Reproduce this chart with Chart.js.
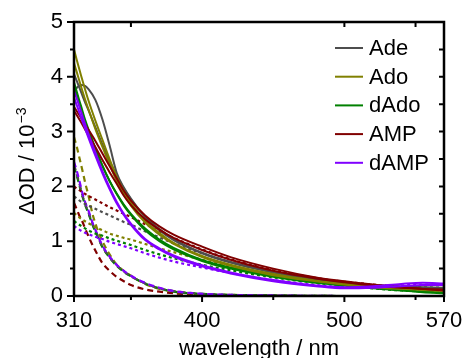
<!DOCTYPE html>
<html><head><meta charset="utf-8">
<script src="https://cdn.jsdelivr.net/npm/chart.js@4.4.0/dist/chart.umd.min.js"></script>
<style>html,body{margin:0;padding:0;background:#fff;overflow:hidden}#wrap{width:463px;height:358px}</style>
</head><body><div id="wrap"><canvas id="c" width="463" height="358"></canvas></div>
<script>
// ---- data ----
const seriesNames = ['Ade', 'Ado', 'dAdo', 'AMP', 'dAMP'];
const seriesColors = ['#4d4d4d', '#808000', '#008000', '#800000', '#8000ff'];
const xTickValues = [310, 400, 500, 570];
const yTickValues = [0, 1, 2, 3, 4, 5];
const wlSolid = [310, 312, 315, 318, 320, 325, 330, 335, 340, 345, 350, 360, 370, 380, 400, 420, 450, 480, 500, 520, 540, 555, 570];
const wlFast  = [310, 312, 314, 316, 318, 320, 323, 326, 330, 335, 340, 345, 350, 360, 370, 380, 400, 420, 450, 500, 570];

const adeSolidA  = [3.72,3.80,3.85,3.83,3.78,3.58,3.22,2.75,2.25,1.98,1.78,1.45,1.22,1.04,0.79,0.62,0.44,0.31,0.25,0.20,0.17,0.16,0.15];
const adeSolidB  = [4.05,3.92,3.72,3.52,3.40,3.08,2.76,2.46,2.20,1.96,1.76,1.44,1.20,1.02,0.78,0.61,0.43,0.30,0.24,0.19,0.16,0.15,0.14];
const adoSolidA  = [4.50,4.30,4.02,3.75,3.58,3.20,2.85,2.50,2.18,1.92,1.70,1.38,1.15,0.97,0.73,0.57,0.40,0.28,0.22,0.17,0.14,0.12,0.10];
const adoSolidB  = [4.25,4.08,3.82,3.57,3.42,3.05,2.72,2.40,2.10,1.86,1.65,1.34,1.12,0.95,0.71,0.55,0.38,0.27,0.21,0.16,0.13,0.11,0.09];
const dadoSolidA = [3.90,3.72,3.46,3.20,3.05,2.70,2.38,2.10,1.86,1.65,1.48,1.20,1.00,0.85,0.64,0.50,0.35,0.24,0.19,0.14,0.10,0.07,0.05];
const dadoSolidB = [3.80,3.64,3.40,3.16,3.02,2.68,2.37,2.10,1.87,1.67,1.50,1.23,1.03,0.88,0.66,0.52,0.36,0.25,0.20,0.15,0.11,0.08,0.06];
const ampSolidA  = [3.45,3.37,3.25,3.12,3.04,2.83,2.60,2.37,2.15,1.92,1.74,1.47,1.27,1.12,0.90,0.71,0.50,0.34,0.27,0.21,0.16,0.13,0.10];
const ampSolidB  = [3.38,3.30,3.17,3.03,2.94,2.72,2.48,2.26,2.05,1.83,1.66,1.40,1.21,1.06,0.84,0.66,0.46,0.32,0.25,0.19,0.15,0.13,0.12];
const dampSolidA = [3.75,3.60,3.36,3.12,2.97,2.62,2.28,1.98,1.72,1.50,1.32,1.04,0.87,0.74,0.56,0.43,0.29,0.19,0.16,0.18,0.22,0.24,0.23];
const dampSolidB = [3.62,3.48,3.26,3.04,2.90,2.56,2.24,1.95,1.69,1.48,1.30,1.02,0.85,0.72,0.54,0.41,0.27,0.18,0.14,0.15,0.18,0.20,0.20];

const ampSlow  = [2.00,1.96,1.91,1.86,1.83,1.76,1.69,1.62,1.56,1.50,1.44,1.31,1.18,1.06,0.85,0.67,0.47,0.33,0.26,0.21,0.17,0.14,0.12];
const adeSlow  = [1.82,1.78,1.72,1.68,1.65,1.59,1.53,1.47,1.41,1.35,1.30,1.18,1.07,0.96,0.78,0.62,0.44,0.31,0.25,0.20,0.17,0.16,0.15];
const adoSlow  = [1.52,1.47,1.41,1.36,1.33,1.26,1.20,1.14,1.10,1.06,1.03,0.95,0.87,0.80,0.66,0.54,0.39,0.28,0.22,0.17,0.14,0.12,0.10];
const dadoSlow = [1.37,1.33,1.28,1.23,1.20,1.14,1.10,1.05,1.01,0.97,0.93,0.84,0.76,0.69,0.57,0.47,0.34,0.24,0.19,0.14,0.10,0.08,0.06];
const dampSlow = [1.28,1.24,1.19,1.15,1.13,1.08,1.04,0.99,0.95,0.91,0.87,0.78,0.70,0.63,0.52,0.42,0.29,0.20,0.16,0.16,0.19,0.21,0.20];

const adoFast  = [2.90,2.72,2.50,2.28,2.05,1.85,1.50,1.25,1.00,0.76,0.57,0.46,0.37,0.22,0.13,0.08,0.03,0.02,0.01,0.00,0.00];
const dampFast = [2.45,2.28,2.08,1.87,1.70,1.57,1.34,1.15,0.92,0.72,0.57,0.46,0.37,0.24,0.15,0.09,0.04,0.02,0.01,0.00,0.00];
const adeFast  = [2.40,2.22,2.03,1.83,1.67,1.54,1.32,1.13,0.90,0.71,0.56,0.45,0.36,0.23,0.14,0.09,0.04,0.02,0.01,0.00,0.00];
const dadoFast = [2.36,2.19,2.00,1.81,1.65,1.52,1.30,1.12,0.89,0.70,0.55,0.44,0.36,0.23,0.14,0.08,0.04,0.02,0.01,0.00,0.00];
const ampFast  = [1.70,1.58,1.45,1.35,1.22,1.10,0.93,0.78,0.60,0.46,0.35,0.27,0.20,0.12,0.08,0.05,0.02,0.01,0.00,0.00,0.00];

// ---- build ----
const pts = (xs, ys) => xs.map((x, i) => ({x: x, y: ys[i]}));
const solids = [[adeSolidA, adeSolidB],[adoSolidA, adoSolidB],[dadoSolidA, dadoSolidB],[ampSolidA, ampSolidB],[dampSolidA, dampSolidB]];
const slows = [adeSlow, adoSlow, dadoSlow, ampSlow, dampSlow];
const fasts = [adeFast, adoFast, dadoFast, ampFast, dampFast];

function ds(data, color, dash, w) {
  return {data: data, borderColor: color, borderWidth: w, borderDash: dash, pointRadius: 0,
    fill: false, cubicInterpolationMode: 'monotone', borderCapStyle: 'butt'};
}
const datasets = [];
const solidOrder = [4, 3, 1, 2, 0];
solidOrder.forEach(i => { datasets.push(ds(pts(wlSolid, solids[i][0]), seriesColors[i], [], 2)); datasets.push(ds(pts(wlSolid, solids[i][1]), seriesColors[i], [], 2)); });
[4,2,1,0,3].forEach(i => datasets.push(ds(pts(wlSolid, slows[i]), seriesColors[i], [3, 3], 2.2)));
[4,0,2,1,3].forEach(i => datasets.push(ds(pts(wlFast, fasts[i]), seriesColors[i], [6, 4], 2.2)));

const FONT = 'Liberation Sans, Arial, Helvetica, sans-serif';

const framePlugin = {
  id: 'frame',
  afterDraw(chart) {
    const ctx = chart.ctx, a = chart.chartArea, xs = chart.scales.x, ys = chart.scales.y;
    ctx.save();
    ctx.strokeStyle = '#000'; ctx.lineWidth = 2.5; ctx.lineCap = 'square';
    ctx.strokeRect(a.left, a.top, a.right - a.left, a.bottom - a.top);
    ctx.lineWidth = 2; ctx.lineCap = 'butt';
    ctx.beginPath();
    for (let v = 0; v <= 5.001; v += 0.5) {
      const y = ys.getPixelForValue(v);
      const major = Math.abs(v - Math.round(v)) < 1e-6;
      ctx.moveTo(a.left, y); ctx.lineTo(a.left - (major ? 7 : 4), y);
      ctx.moveTo(a.right, y); ctx.lineTo(a.right - 5, y);
    }
    [[310,6],[350,4],[400,6],[450,4],[500,6],[550,4],[570,6]].forEach(t => {
      const x = xs.getPixelForValue(t[0]);
      ctx.moveTo(x, a.bottom); ctx.lineTo(x, a.bottom + t[1]);
    });
    [350, 500, 550].forEach(v => {
      const x = xs.getPixelForValue(v);
      ctx.moveTo(x, a.top); ctx.lineTo(x, a.top + 5);
    });
    ctx.stroke();
    ctx.fillStyle = '#000';
    ctx.font = '22px ' + FONT;
    ctx.textAlign = 'center'; ctx.textBaseline = 'alphabetic';
    ctx.fillText('wavelength / nm', (a.left + a.right) / 2, 355);
    ctx.save();
    ctx.translate(34, 215); ctx.rotate(-Math.PI / 2);
    ctx.textAlign = 'left';
    const main = '\u0394OD / 10';
    ctx.fillText(main, 0, 0);
    const w = ctx.measureText(main).width;
    ctx.font = '14px ' + FONT;
    ctx.fillText('\u22123', w + 1, -8);
    ctx.restore();
    ctx.font = '22px ' + FONT; ctx.textAlign = 'left'; ctx.textBaseline = 'middle';
    seriesNames.forEach((n, i) => {
      const y = 48 + i * 28.7;
      ctx.strokeStyle = seriesColors[i]; ctx.lineWidth = 2;
      ctx.beginPath(); ctx.moveTo(335, y); ctx.lineTo(363, y); ctx.stroke();
      ctx.fillStyle = '#000';
      ctx.fillText(n, 369, y + 1);
    });
    ctx.restore();
  }
};

new Chart(document.getElementById('c'), {
  type: 'line',
  data: {datasets: datasets},
  options: {
    responsive: false, animation: false, devicePixelRatio: 1,
    layout: {padding: {left: 0, top: 22, right: 19, bottom: 0}},
    plugins: {legend: {display: false}, tooltip: {enabled: false}},
    scales: {
      x: {type: 'linear', min: 310, max: 570,
        afterBuildTicks: s => { s.ticks = xTickValues.map(v => ({value: v})); },
        afterFit: s => { s.height = 62; s.paddingLeft = 0; s.paddingRight = 0; },
        grid: {display: false, drawTicks: false}, border: {display: false},
        ticks: {font: {size: 22, family: FONT}, color: '#000', padding: 12, maxRotation: 0, autoSkip: false}},
      y: {type: 'linear', min: 0, max: 5,
        afterBuildTicks: s => { s.ticks = yTickValues.map(v => ({value: v})); },
        afterFit: s => { s.width = 74; s.paddingTop = 0; s.paddingBottom = 0; },
        grid: {display: false, drawTicks: false}, border: {display: false},
        ticks: {font: {size: 22, family: FONT}, color: '#000', padding: 11}}
    }
  },
  plugins: [framePlugin]
});
</script></body></html>
